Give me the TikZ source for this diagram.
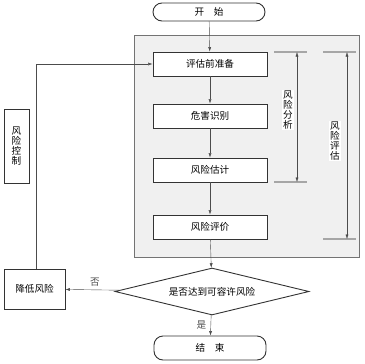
\documentclass[tikz,border=0pt]{standalone}
\usepackage{fontspec}
\setmainfont{Noto Sans CJK SC}
\usetikzlibrary{shapes.geometric}
\usetikzlibrary{arrows.meta}
\usetikzlibrary{positioning}
\tikzset{
  stepbox/.style={draw=black!80, line width=0.9pt, fill=white, minimum width=114pt, minimum height=24pt, inner sep=0pt},
  termbox/.style={draw=black!80, line width=0.9pt, fill=white, rounded corners=9pt, minimum width=112pt, inner sep=0pt},
  brace/.style={draw=black!35, line width=1.2pt},
  vlabel/.style={fill=white, inner sep=1pt, align=center, font=\fontsize{9.6}{9.8}\selectfont},
}

\begin{document}
\begin{tikzpicture}[x=1pt, y=-1pt, >={Latex[length=4.5pt,width=3pt]}, font=\fontsize{9.6}{11}\selectfont]
    \useasboundingbox (0,0) rectangle (364,364);
    % gray frame
    \draw[black!55, fill=black!6] (134,35) rectangle (359,257);

    \node[termbox, minimum height=18pt] (start) at (209,12) {开\quad 始};
    \node[stepbox] (prep) at (210,64) {评估前准备};
    \node[stepbox] (haz) at (210,116) {危害识别};
    \node[stepbox] (est) at (210,170) {风险估计};
    \node[stepbox] (eval) at (210,227) {风险评价};
    \node[draw=black!80, line width=0.9pt, diamond, fill=white, minimum width=194pt, minimum height=47pt, inner sep=0pt, shape aspect=4] (dec) at (212,291.5) {是否达到可容许风险};
    \node[termbox, minimum height=24pt] (end) at (210,348) {结\quad 束};
    \node[stepbox, minimum width=61pt, minimum height=40pt] (lower) at (34.5,289) {降低风险};
    \node[stepbox, minimum width=25pt, minimum height=74pt, align=center, font=\fontsize{9.6}{10}\selectfont] (ctrl) at (16.5,146) {风\\险\\控\\制};

    \draw[->, black!70] (start) -- (prep);
    \draw[->, black!70] (prep) -- (haz);
    \draw[->, black!70] (haz) -- (est);
    \draw[->, black!70] (est) -- (eval);
    \draw[->, black!70] (eval) -- (dec);
    \draw[->, black!70] (dec) -- node[left=1pt] {是} (end);
    \draw[->, black!70] (dec) -- node[above=0.5pt, pos=0.46] {否} (lower);
    \draw[->, black!70] (lower.north -| 36,0) |- (prep.west);

    % analysis / assessment ranges
    \coordinate (a1) at (297,52);
    \coordinate (a2) at (297,182);
    \coordinate (b1) at (347,52);
    \coordinate (b2) at (347,239);
    \draw[brace] (274,52) -- (307,52);
    \draw[brace] (274,182) -- (307,182);
    \draw[brace] (323,52) -- (356,52);
    \draw[brace] (323,239) -- (356,239);
    \draw[<->, black!70] (a1) -- (a2);
    \draw[<->, black!70] (b1) -- (b2);
    \node[vlabel] (ana) at (288,110) {风\\险\\分\\析};
    \node[vlabel] (ass) at (335,141) {风\\险\\评\\估};
\end{tikzpicture}
\end{document}
